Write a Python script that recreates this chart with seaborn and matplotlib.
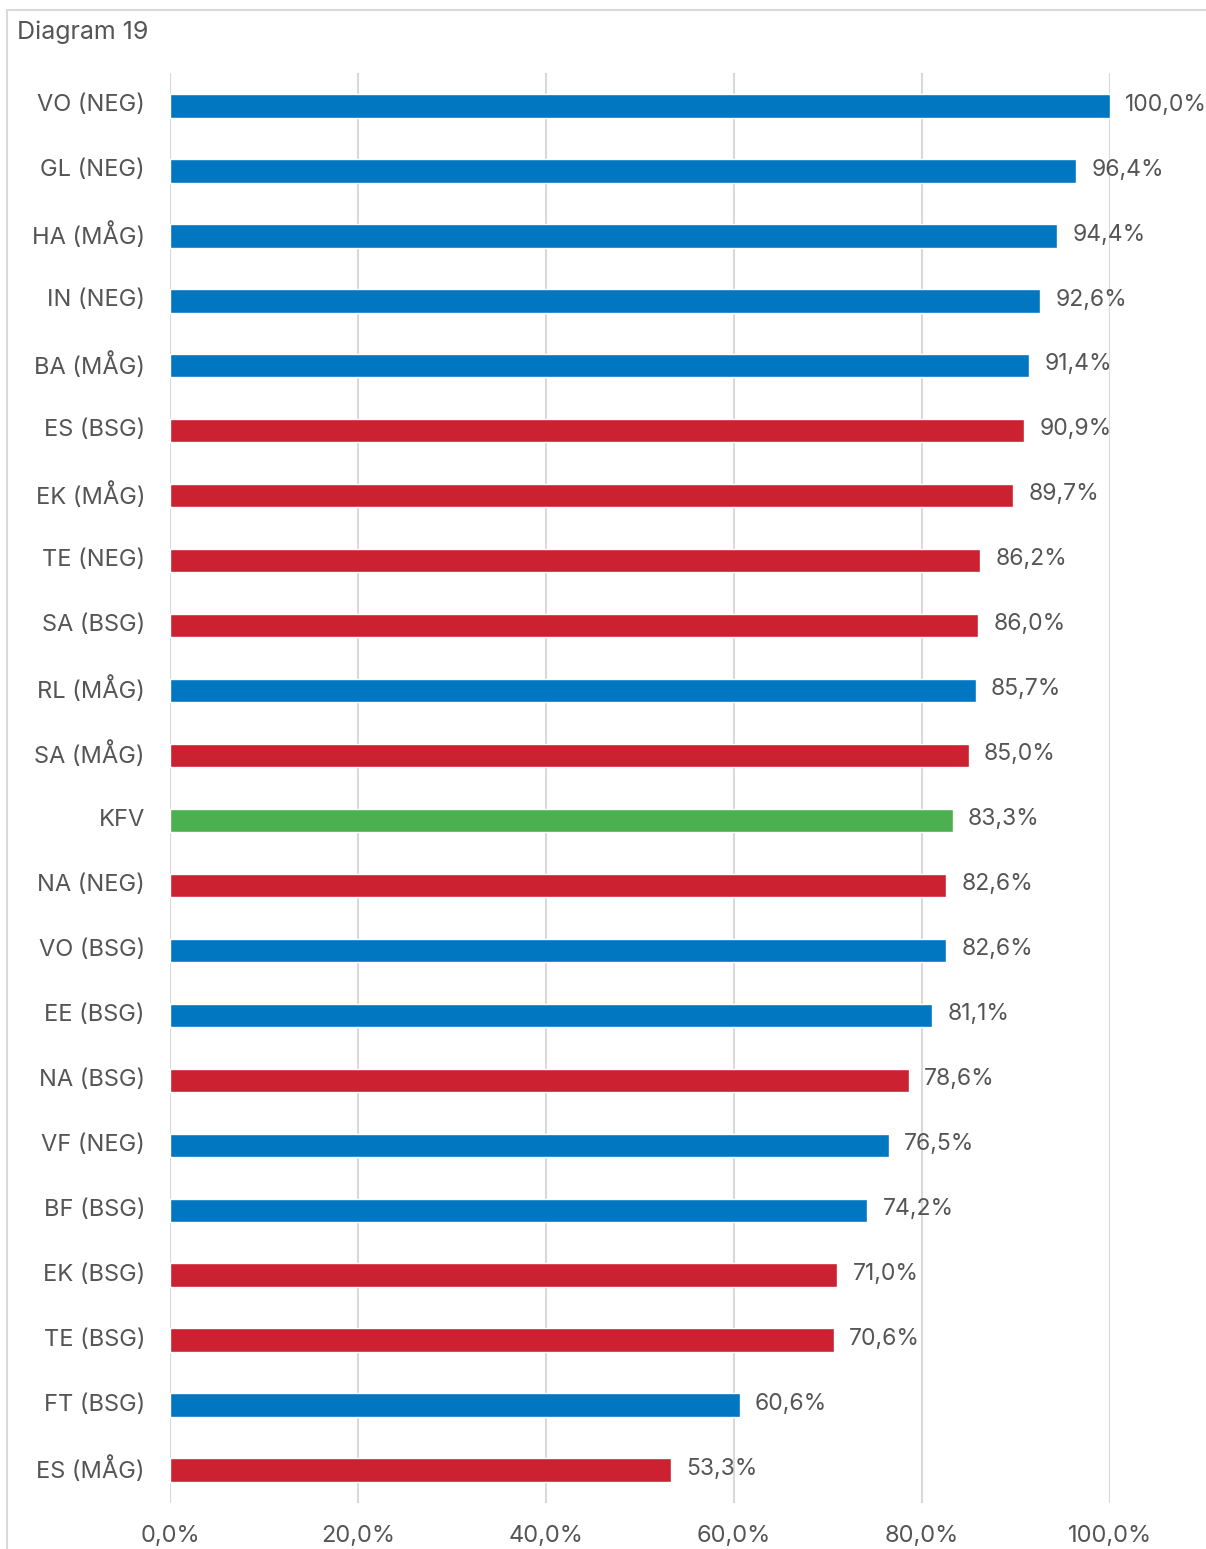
import matplotlib
matplotlib.use("Agg")
import matplotlib.pyplot as plt
import matplotlib.patches as mpatches
import matplotlib.transforms as mtransforms
import seaborn as sns
import pandas as pd

# data
labels = ["VO (NEG)", "GL (NEG)", "HA (MÅG)", "IN (NEG)", "BA (MÅG)", "ES (BSG)",
          "EK (MÅG)", "TE (NEG)", "SA (BSG)", "RL (MÅG)", "SA (MÅG)", "KFV",
          "NA (NEG)", "VO (BSG)", "EE (BSG)", "NA (BSG)", "VF (NEG)", "BF (BSG)",
          "EK (BSG)", "TE (BSG)", "FT (BSG)", "ES (MÅG)"]
values = [100.0, 96.4, 94.4, 92.6, 91.4, 90.9, 89.7, 86.2, 86.0, 85.7, 85.0, 83.3,
          82.6, 82.6, 81.1, 78.6, 76.5, 74.2, 71.0, 70.6, 60.6, 53.3]
groups = ["blue", "blue", "blue", "blue", "blue", "red", "red", "red", "red", "blue",
          "red", "green", "red", "blue", "blue", "red", "blue", "blue", "red", "red",
          "blue", "red"]
tick_vals = [0, 20, 40, 60, 80, 100]

group_colors = {"blue": "#0077C0", "red": "#CC2131", "green": "#4CAF50"}
text_color = "#555555"
grid_color = "#d9d9d9"

df = pd.DataFrame({"label": labels, "value": values, "group": groups})

sns.set_theme(style="white")
plt.rcParams["font.family"] = ["Inter", "DejaVu Sans"]

W, H = 1206, 1549
fig = plt.figure(figsize=(W / 100, H / 100), dpi=100)
ax = fig.add_axes([170 / W, 1 - 1502.5 / H, 940 / W, 1429 / H])

# frame around the whole chart (clipped by the image on right/bottom)
fig.patches.append(mpatches.Rectangle((7 / W, -0.1), 1.2, 1 - 10 / H + 0.1,
                                      transform=fig.transFigure, fill=False,
                                      edgecolor=grid_color, linewidth=1.5))
fig.text(17 / W, 1 - 32 / H, "Diagram 19", fontsize=18, color=text_color,
         ha="left", va="center")

for t in tick_vals:
    ax.axvline(t, color=grid_color, linewidth=1.5, zorder=0)

sns.barplot(data=df, x="value", y="label", hue="group", palette=group_colors,
            width=0.36, legend=False, ax=ax, zorder=2, saturation=1)

for i, v in enumerate(values):
    ax.text(v + 1.6, i - 0.02, f"{v:.1f}%".replace(".", ","), va="center", ha="left",
            fontsize=16.5, color=text_color)

ax.set_xlim(0, 100)
ax.set_ylim(21.5, -0.5)
ax.set_xticks(tick_vals)
ax.set_xticklabels([f"{t:.1f}%".replace(".", ",") for t in tick_vals])
ax.set_xlabel("")
ax.set_ylabel("")
ax.tick_params(axis="x", length=0, pad=16, labelsize=17, labelcolor=text_color)
ax.tick_params(axis="y", length=0, pad=18, labelsize=17, labelcolor=text_color)
shift = mtransforms.ScaledTranslation(0, 3 / 100, fig.dpi_scale_trans)
for lab in ax.get_yticklabels():
    lab.set_transform(lab.get_transform() + shift)
for s in ax.spines.values():
    s.set_visible(False)
ax.grid(False)

fig.savefig("out.png", dpi=100)
